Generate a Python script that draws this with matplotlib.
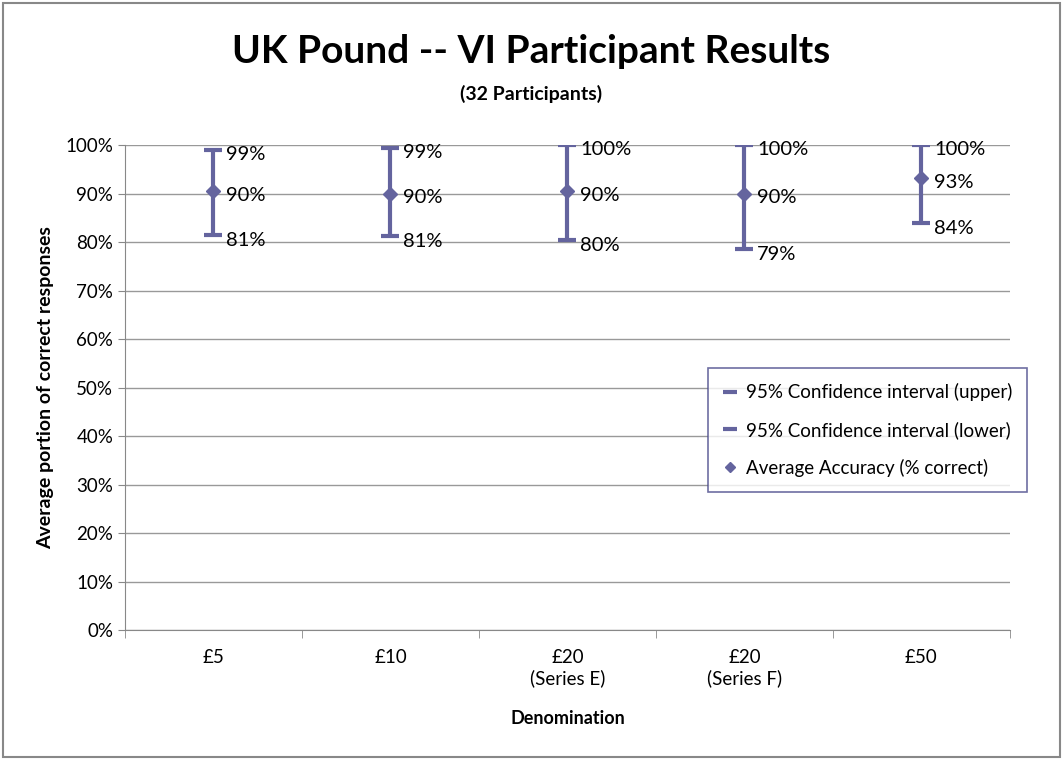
import matplotlib
matplotlib.use('Agg')
import matplotlib.pyplot as plt
from matplotlib.patches import Rectangle
from matplotlib.ticker import FixedLocator, PercentFormatter

plt.rcParams['font.family'] = ['Lato', 'DejaVu Sans']

# data
categories = ['£5', '£10', '£20\n(Series E)', '£20\n(Series F)', '£50']
upper = [0.990, 0.994, 1.000, 1.000, 1.000]
mean = [0.905, 0.900, 0.905, 0.900, 0.932]
lower = [0.814, 0.812, 0.805, 0.786, 0.840]

col = '#64649E'

fig = plt.figure(figsize=(10.63, 7.6), dpi=100)
ax = fig.add_axes([0.1176, 0.171, 0.8324, 0.638])

x = list(range(len(categories)))
ax.vlines(x, lower, upper, color=col, lw=3, zorder=3)
ax.plot(x, upper, ls='none', marker='_', ms=13, mew=3, color=col, zorder=4,
        label='95% Confidence interval (upper)')
ax.plot(x, lower, ls='none', marker='_', ms=13, mew=3, color=col, zorder=4,
        label='95% Confidence interval (lower)')
ax.plot(x, mean, ls='none', marker='D', ms=7, color=col, zorder=5,
        label='Average Accuracy (% correct)')

for i in x:
    ax.annotate(f'{upper[i]*100:.0f}%', (i, upper[i]), xytext=(9, -3),
                textcoords='offset points', va='center', fontsize=14.5)
    ax.annotate(f'{mean[i]*100:.0f}%', (i, mean[i]), xytext=(9, -3),
                textcoords='offset points', va='center', fontsize=14.5)
    ax.annotate(f'{lower[i]*100:.0f}%', (i, lower[i]), xytext=(9, -4),
                textcoords='offset points', va='center', fontsize=14.5)

ax.set_xlim(-0.5, len(categories) - 0.5)
ax.set_ylim(0, 1)
ax.yaxis.set_major_locator(FixedLocator([k / 10 for k in range(11)]))
ax.yaxis.set_major_formatter(PercentFormatter(1.0, decimals=0))
ax.set_xticks(x)
ax.set_xticklabels(categories, fontsize=13.5)
ax.set_xticks([i - 0.5 for i in range(len(categories) + 1)], minor=True)
ax.tick_params(axis='x', which='major', length=0, pad=14)
ax.tick_params(axis='x', which='minor', length=6, color='#888888')
ax.tick_params(axis='y', length=5, color='#888888', labelsize=13.5)
ax.grid(axis='y', color='#999999', lw=1)
ax.set_axisbelow(True)
for s in ['top', 'right']:
    ax.spines[s].set_visible(False)
ax.spines['left'].set_color('#888888')
ax.spines['bottom'].set_color('#888888')

ax.set_ylabel('Average portion of correct responses', fontsize=14, fontweight='bold', labelpad=8)
ax.set_xlabel('Denomination', fontsize=13, fontweight='bold', labelpad=16)

leg = ax.legend(loc='upper left', bbox_to_anchor=(0.659, 0.54), fontsize=13.5,
                frameon=True, fancybox=False, handlelength=0.7, handletextpad=0.5,
                labelspacing=1.05, borderpad=0.8, markerscale=0.8, borderaxespad=0)
leg.get_frame().set_edgecolor('#4A4A8A')
leg.get_frame().set_linewidth(1.2)

fig.text(0.5, 0.932, 'UK Pound -- VI Participant Results', ha='center', va='center',
         fontsize=28, fontweight='bold')
fig.text(0.5, 0.876, '(32 Participants)', ha='center', va='center',
         fontsize=14, fontweight='bold')

fig.patches.append(Rectangle((0.003, 0.004), 0.994, 0.992, transform=fig.transFigure,
                             fill=False, edgecolor='#888888', lw=1.5))

fig.savefig('out.png', dpi=100)
